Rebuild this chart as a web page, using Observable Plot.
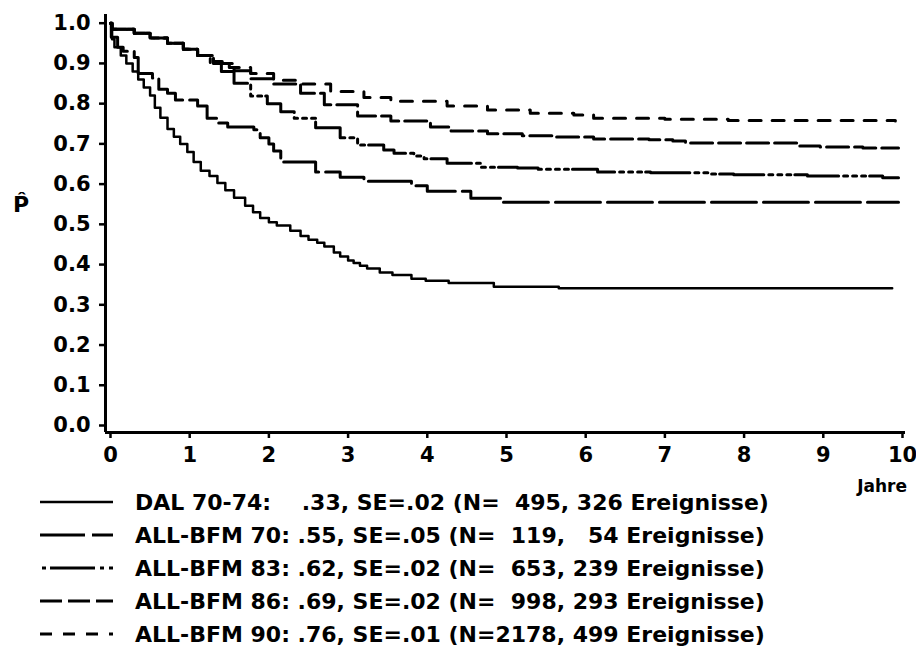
<!DOCTYPE html>
<html><head><meta charset="utf-8">
<script src="https://cdn.jsdelivr.net/npm/d3@7"></script>
<script src="https://cdn.jsdelivr.net/npm/@observablehq/plot@0.6"></script>
<style>
body{margin:0;background:#fff;}
#wrap{position:relative;width:916px;height:647px;overflow:hidden;font-family:"DejaVu Sans",sans-serif;font-weight:bold;color:#000;}
#wrap > svg{position:absolute;left:0;top:0;}
.ylab{position:absolute;left:13px;top:194px;font-size:22px;line-height:22px;}
.xlab{position:absolute;right:9px;top:478px;font-size:17px;line-height:17px;}
#legend{position:absolute;left:0;top:486px;width:916px;}
.row{position:relative;height:33px;line-height:33px;font-size:22px;white-space:pre;}
.row svg{position:absolute;left:40px;top:0;}
.row span{position:absolute;left:135px;top:0;}
</style></head>
<body><div id="wrap"></div>
<script>
// ---- tick values ----
const xTicks = [0, 1, 2, 3, 4, 5, 6, 7, 8, 9, 10];
const yTicks = [0, 0.1, 0.2, 0.3, 0.4, 0.5, 0.6, 0.7, 0.8, 0.9, 1.0];
const xLabel = "Jahre";
const yLabel = "P\u0302";

// ---- legend texts ----
const seriesLabels = [
  "DAL 70-74:    .33, SE=.02 (N=  495, 326 Ereignisse)",
  "ALL-BFM 70: .55, SE=.05 (N=  119,   54 Ereignisse)",
  "ALL-BFM 83: .62, SE=.02 (N=  653, 239 Ereignisse)",
  "ALL-BFM 86: .69, SE=.02 (N=  998, 293 Ereignisse)",
  "ALL-BFM 90: .76, SE=.01 (N=2178, 499 Ereignisse)"
];

// ---- series: [Jahre, P] (Kaplan-Meier steps) ----
const dal7074 = [[0,1],[0.02,0.96],[0.05,0.94],[0.13,0.92],[0.2,0.9],[0.28,0.88],[0.35,0.86],[0.42,0.84],[0.5,0.82],[0.56,0.79],[0.63,0.765],[0.72,0.737],[0.8,0.718],[0.88,0.7],[0.97,0.68],[1.05,0.655],[1.14,0.633],[1.25,0.62],[1.35,0.603],[1.45,0.585],[1.56,0.566],[1.7,0.546],[1.8,0.53],[1.89,0.516],[2.0,0.505],[2.1,0.497],[2.27,0.484],[2.4,0.471],[2.5,0.462],[2.61,0.454],[2.7,0.445],[2.82,0.43],[2.9,0.42],[3.0,0.41],[3.07,0.404],[3.15,0.397],[3.24,0.39],[3.4,0.38],[3.56,0.374],[3.8,0.365],[3.98,0.36],[4.27,0.354],[4.84,0.345],[5.66,0.341],[9.87,0.341]];
const bfm70 = [[0,1],[0.01,0.965],[0.09,0.94],[0.16,0.93],[0.3,0.915],[0.35,0.875],[0.53,0.864],[0.61,0.836],[0.72,0.826],[0.82,0.809],[1.1,0.794],[1.22,0.764],[1.35,0.752],[1.48,0.742],[1.81,0.735],[1.89,0.715],[2.0,0.7],[2.06,0.682],[2.15,0.655],[2.59,0.63],[2.9,0.617],[3.2,0.607],[3.8,0.596],[4.0,0.582],[4.55,0.565],[4.95,0.555],[9.95,0.555]];
const bfm83 = [[0,1],[0.02,0.985],[0.3,0.975],[0.5,0.963],[0.72,0.95],[0.92,0.935],[1.1,0.92],[1.26,0.9],[1.4,0.88],[1.56,0.851],[1.77,0.819],[1.98,0.8],[2.15,0.78],[2.32,0.764],[2.59,0.74],[2.9,0.715],[3.12,0.697],[3.45,0.685],[3.58,0.677],[3.83,0.67],[3.96,0.663],[4.25,0.652],[4.67,0.642],[5.14,0.64],[5.4,0.637],[6.15,0.63],[6.82,0.628],[7.58,0.625],[7.87,0.623],[8.8,0.62],[9.75,0.616],[9.95,0.616]];
const bfm86 = [[0,1],[0.02,0.985],[0.3,0.975],[0.5,0.963],[0.72,0.95],[0.92,0.935],[1.1,0.92],[1.3,0.9],[1.56,0.882],[1.77,0.862],[2.06,0.849],[2.4,0.826],[2.7,0.797],[3.12,0.769],[3.54,0.757],[4.04,0.742],[4.3,0.732],[4.76,0.725],[5.2,0.72],[5.6,0.717],[6.1,0.712],[6.8,0.71],[7.1,0.707],[7.26,0.702],[8.67,0.695],[8.96,0.692],[9.5,0.69],[9.95,0.69]];
const bfm90 = [[0,1],[0.02,0.985],[0.3,0.975],[0.5,0.963],[0.72,0.95],[0.92,0.935],[1.1,0.92],[1.3,0.905],[1.5,0.89],[1.77,0.875],[2.06,0.858],[2.4,0.849],[2.78,0.83],[3.2,0.815],[3.54,0.806],[4.25,0.794],[4.76,0.784],[5.3,0.776],[5.85,0.772],[6.1,0.764],[7.0,0.761],[7.8,0.758],[9.91,0.757]];

// ---- styles ----
const seriesData = [dal7074, bfm70, bfm83, bfm86, bfm90];
const dashes = [null, "45,7", "45,5,4,5,4,5,4,4", "22,6", "12,11"];
const widths = [2.5, 3, 3, 3, 3];
const legendOffsets = [0, 0, 66, 0, 0];

const xDomain = [-0.063, 10.038];
const yDomain = [-0.0174, 1.0216];

const plot = Plot.plot({
  width: 916,
  height: 647,
  marginLeft: 105,
  marginRight: 11,
  marginTop: 14,
  marginBottom: 215,
  x: {domain: xDomain},
  y: {domain: yDomain},
  style: {fontFamily: "DejaVu Sans", fontSize: "21px", fontWeight: "bold", color: "black", background: "white", overflow: "visible"},
  marks: [
    ...seriesData.map((d, i) => Plot.line(d, {
      x: p => p[0], y: p => p[1], curve: "step-after",
      stroke: "black", strokeWidth: widths[i], strokeDasharray: dashes[i] ?? undefined
    })),
    Plot.ruleX([xDomain[0]], {stroke: "black", strokeWidth: 3}),
    Plot.ruleY([yDomain[0]], {stroke: "black", strokeWidth: 3}),
    Plot.axisY({ticks: yTicks, tickFormat: d3.format(".1f"), tickSize: 6, tickPadding: 9, strokeWidth: 2.5, fontSize: 21, fontWeight: "bold", label: null}),
    Plot.axisX({ticks: xTicks, tickFormat: d3.format("d"), tickSize: 6, tickPadding: 9, strokeWidth: 2.5, fontSize: 21, fontWeight: "bold", label: null})
  ]
});

const wrap = document.getElementById("wrap");
wrap.appendChild(plot);

const yl = document.createElement("div");
yl.className = "ylab"; yl.textContent = yLabel; wrap.appendChild(yl);
const xl = document.createElement("div");
xl.className = "xlab"; xl.textContent = xLabel; wrap.appendChild(xl);

const legend = document.createElement("div");
legend.id = "legend";
seriesLabels.forEach((lab, i) => {
  const row = document.createElement("div");
  row.className = "row";
  const ns = "http://www.w3.org/2000/svg";
  const svg = document.createElementNS(ns, "svg");
  svg.setAttribute("width", 74); svg.setAttribute("height", 33);
  const ln = document.createElementNS(ns, "line");
  ln.setAttribute("x1", 0); ln.setAttribute("x2", 73);
  ln.setAttribute("y1", 16); ln.setAttribute("y2", 16);
  ln.setAttribute("stroke", "black");
  ln.setAttribute("stroke-width", widths[i]);
  if (dashes[i]) { ln.setAttribute("stroke-dasharray", dashes[i]); ln.setAttribute("stroke-dashoffset", legendOffsets[i]); }
  svg.appendChild(ln);
  row.appendChild(svg);
  const sp = document.createElement("span");
  sp.textContent = lab;
  row.appendChild(sp);
  legend.appendChild(row);
});
wrap.appendChild(legend);
</script>
</body></html>
